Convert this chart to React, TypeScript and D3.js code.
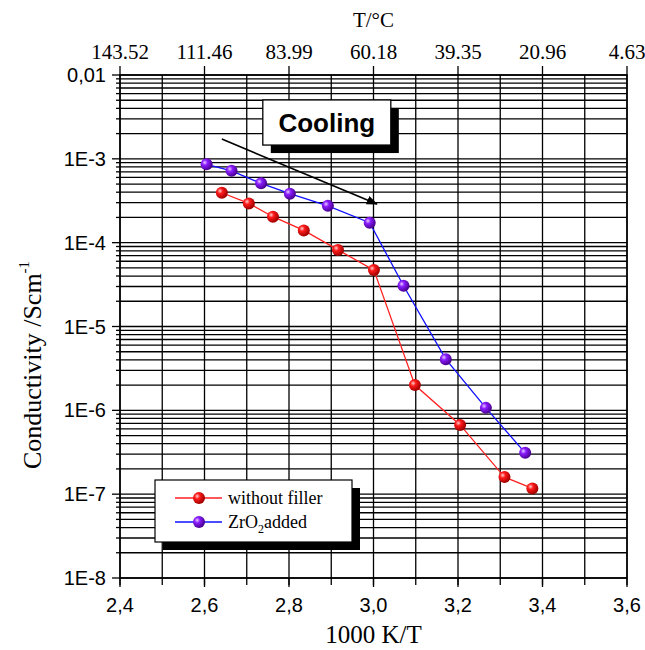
import React from 'react';
import * as d3 from 'd3';

// 1000 K/T values and conductivity
const xNoFiller = [2.641, 2.705, 2.762, 2.835, 2.916, 3.001, 3.098, 3.205, 3.31, 3.376];
const yNoFiller = [3.94e-4, 2.94e-4, 2.04e-4, 1.4e-4, 8.2e-5, 4.71e-5, 2.0e-6, 6.7e-7, 1.6e-7, 1.17e-7];
const xZrO2 = [2.605, 2.664, 2.734, 2.802, 2.892, 2.991, 3.071, 3.171, 3.266, 3.359];
const yZrO2 = [8.6e-4, 7.2e-4, 5.1e-4, 3.84e-4, 2.75e-4, 1.73e-4, 3.06e-5, 4.08e-6, 1.07e-6, 3.11e-7];

const xTicks = [2.4, 2.6, 2.8, 3.0, 3.2, 3.4, 3.6];
const xTickLabels = ['2,4', '2,6', '2,8', '3,0', '3,2', '3,4', '3,6'];
const topTickLabels = ['143.52', '111.46', '83.99', '60.18', '39.35', '20.96', '4.63'];
const yTicks = [1e-2, 1e-3, 1e-4, 1e-5, 1e-6, 1e-7, 1e-8];
const yTickLabels = ['0,01', '1E-3', '1E-4', '1E-5', '1E-6', '1E-7', '1E-8'];

const W = 645;
const H = 650;
const left = 120, right = 627, top = 75, bottom = 578;

const sans = 'Liberation Sans, Arial, sans-serif';
const serif = 'Liberation Serif, Times New Roman, serif';

const App = () => {
  const x = d3.scaleLinear().domain([2.4, 3.6]).range([left, right]);
  const y = d3.scaleLog().domain([1e-8, 1e-2]).range([bottom, top]);

  const xMinor = d3.range(2.4, 3.6001, 0.1);
  const yMinor: number[] = [];
  for (let e = -8; e < -2; e++) {
    for (let m = 2; m <= 9; m++) yMinor.push(m * Math.pow(10, e));
  }

  const line = d3.line<[number, number]>().x(d => x(d[0])).y(d => y(d[1]));
  const red: [number, number][] = xNoFiller.map((v, i) => [v, yNoFiller[i]]);
  const zr: [number, number][] = xZrO2.map((v, i) => [v, yZrO2[i]]);

  // annotation positions in data units
  const arrowFrom = [2.641, 1.72e-3];
  const arrowTo = [3.008, 2.89e-4];
  const coolBox = { x0: 2.738, x1: 3.041, y0: 5.04e-3, y1: 1.46e-3 };

  return (
    <svg width={W} height={H} style={{ position: 'absolute', left: 0, top: 0, background: '#fff' }}>
      <defs>
        <radialGradient id="gRed" cx="35%" cy="35%" r="65%">
          <stop offset="0%" stopColor="#ffd0d0" />
          <stop offset="35%" stopColor="#ff1a1a" />
          <stop offset="100%" stopColor="#a00000" />
        </radialGradient>
        <radialGradient id="gPur" cx="35%" cy="35%" r="65%">
          <stop offset="0%" stopColor="#e8ccff" />
          <stop offset="35%" stopColor="#8a1cff" />
          <stop offset="100%" stopColor="#4a0090" />
        </radialGradient>
        <marker id="arrowHead" viewBox="0 0 10 10" refX="9" refY="5" markerWidth="7" markerHeight="7" orient="auto">
          <path d="M0,1 L10,5 L0,9 Z" fill="#000" />
        </marker>
      </defs>

      {/* grid */}
      <g stroke="#000" strokeWidth={1.3}>
        {xMinor.map((v, i) => (
          <line key={'vx' + i} x1={x(v)} x2={x(v)} y1={top} y2={bottom} />
        ))}
        {yMinor.concat(yTicks).map((v, i) => (
          <line key={'hy' + i} x1={left} x2={right} y1={y(v)} y2={y(v)} />
        ))}
      </g>
      <rect x={left} y={top} width={right - left} height={bottom - top} fill="none" stroke="#000" strokeWidth={1.5} />

      {/* axes ticks */}
      <g stroke="#000" strokeWidth={1.3}>
        {xTicks.map((v, i) => (
          <line key={'bt' + i} x1={x(v)} x2={x(v)} y1={bottom} y2={bottom + 9} />
        ))}
        {xMinor.map((v, i) => (
          <line key={'bm' + i} x1={x(v)} x2={x(v)} y1={bottom} y2={bottom + 7} />
        ))}
        {xTicks.map((v, i) => (
          <line key={'tt' + i} x1={x(v)} x2={x(v)} y1={top} y2={top - 9} />
        ))}
        {yTicks.map((v, i) => (
          <line key={'lt' + i} x1={left - 8} x2={left} y1={y(v)} y2={y(v)} />
        ))}
        {yMinor.map((v, i) => (
          <line key={'lm' + i} x1={left - 4} x2={left} y1={y(v)} y2={y(v)} />
        ))}
      </g>
      <g fontFamily={sans} fontSize={20} fill="#000">
        {xTicks.map((v, i) => (
          <text key={'bl' + i} x={x(v)} y={bottom + 34} textAnchor="middle">{xTickLabels[i]}</text>
        ))}
        {yTicks.map((v, i) => (
          <text key={'yl' + i} x={left - 14} y={y(v) + 7} textAnchor="end">{yTickLabels[i]}</text>
        ))}
      </g>
      <g fontFamily={serif} fontSize={21} fill="#000">
        {xTicks.map((v, i) => (
          <text key={'tl' + i} x={x(v)} y={top - 16} textAnchor="middle">{topTickLabels[i]}</text>
        ))}
        <text x={x(3.0)} y={27} textAnchor="middle">T/°C</text>
      </g>
      <text x={x(3.0)} y={643} textAnchor="middle" fontFamily={serif} fontSize={25}>1000 K/T</text>
      <text transform="translate(41,365) rotate(-90)" textAnchor="middle" fontFamily={serif} fontSize={26}>
        Conductivity /Scm<tspan fontSize={15} dy={-12}>-1</tspan>
      </text>

      {/* arrow and Cooling box */}
      <line x1={x(arrowFrom[0])} y1={y(arrowFrom[1])} x2={x(arrowTo[0])} y2={y(arrowTo[1])}
        stroke="#000" strokeWidth={1.6} markerEnd="url(#arrowHead)" />
      <rect x={x(coolBox.x0) + 8} y={y(coolBox.y0) + 8} width={x(coolBox.x1) - x(coolBox.x0)}
        height={y(coolBox.y1) - y(coolBox.y0)} fill="#000" />
      <rect x={x(coolBox.x0)} y={y(coolBox.y0)} width={x(coolBox.x1) - x(coolBox.x0)}
        height={y(coolBox.y1) - y(coolBox.y0)} fill="#fff" stroke="#000" strokeWidth={1.3} />
      <text x={(x(coolBox.x0) + x(coolBox.x1)) / 2} y={(y(coolBox.y0) + y(coolBox.y1)) / 2 + 9}
        textAnchor="middle" fontFamily={sans} fontWeight="bold" fontSize={26}>Cooling</text>

      {/* series */}
      <path d={line(red) || ''} fill="none" stroke="#ff2020" strokeWidth={1.3} />
      <path d={line(zr) || ''} fill="none" stroke="#1010ff" strokeWidth={1.3} />
      {red.map((d, i) => (
        <circle key={'r' + i} cx={x(d[0])} cy={y(d[1])} r={6} fill="url(#gRed)" />
      ))}
      {zr.map((d, i) => (
        <circle key={'z' + i} cx={x(d[0])} cy={y(d[1])} r={6} fill="url(#gPur)" />
      ))}

      {/* legend */}
      <rect x={163} y={488} width={197} height={62} fill="#000" />
      <rect x={155} y={480} width={197} height={62} fill="#fff" stroke="#000" strokeWidth={1.2} />
      <line x1={175} x2={222} y1={498} y2={498} stroke="#ff2020" strokeWidth={1.3} />
      <circle cx={199} cy={498} r={6} fill="url(#gRed)" />
      <line x1={175} x2={222} y1={522} y2={522} stroke="#1010ff" strokeWidth={1.3} />
      <circle cx={199} cy={522} r={6} fill="url(#gPur)" />
      <g fontFamily={serif} fontSize={18} fill="#000">
        <text x={228} y={504}>without filler</text>
        <text x={228} y={528}>ZrO<tspan fontSize={12} dy={5}>2</tspan><tspan dy={-5}>added</tspan></text>
      </g>
    </svg>
  );
};

export default App;
